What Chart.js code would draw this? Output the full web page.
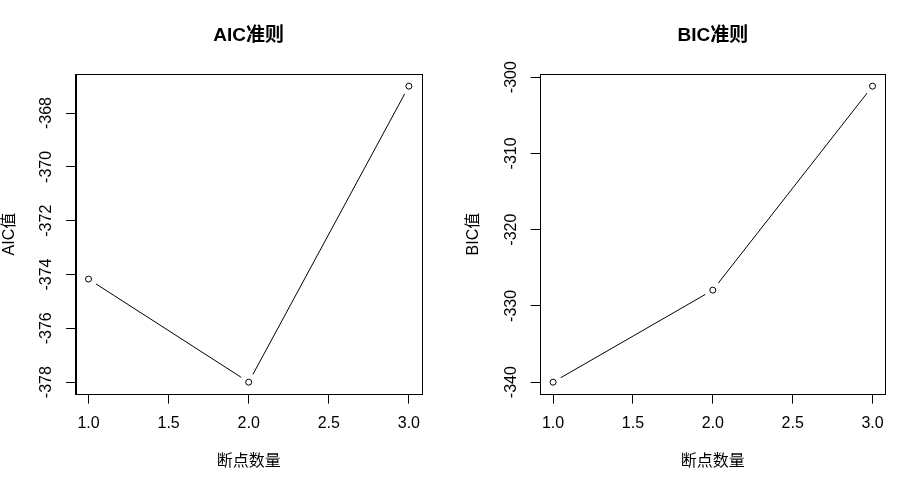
<!DOCTYPE html>
<html>
<head>
<meta charset="utf-8">
<script src="https://cdn.jsdelivr.net/npm/chart.js@4/dist/chart.umd.min.js"></script>
<style>
  html, body { margin: 0; padding: 0; background: #fff; }
  #wrap { position: relative; width: 901px; height: 483px; }
  canvas { position: absolute; top: 0; }
</style>
</head>
<body>
<div id="wrap">
  <canvas id="aicChart" width="450" height="483" style="left:0"></canvas>
  <canvas id="bicChart" width="451" height="483" style="left:450px"></canvas>
</div>
<script>
const breakpoints = [1, 2, 3];
const aicValues = [-374.17, -378.0, -367.0];
const bicValues = [-340.0, -327.93, -301.18];
const xTicks = [1.0, 1.5, 2.0, 2.5, 3.0];
const aicTicks = [-378, -376, -374, -372, -370, -368];
const bicTicks = [-340, -330, -320, -310, -300];

Chart.defaults.font.family = "'Liberation Sans', Arial, 'Noto Sans CJK SC', sans-serif";
Chart.defaults.color = '#000';

// R style axis range: data range padded by 4% on each side
function padRange(vals) {
  const lo = Math.min(...vals), hi = Math.max(...vals);
  const d = (hi - lo) * 0.04;
  return [lo - d, hi + d];
}

// draws the box around the plot region like R's box()
const boxPlugin = {
  id: 'plotBox',
  afterDatasetsDraw(chart) {
    const a = chart.chartArea;
    const ctx = chart.ctx;
    ctx.save();
    ctx.strokeStyle = '#000';
    ctx.lineWidth = 1;
    ctx.strokeRect(Math.round(a.left) + 0.5, Math.round(a.top) + 0.5,
      Math.round(a.right - a.left), Math.round(a.bottom - a.top));
    ctx.restore();
  }
};

function makeChart(id, title, yLabel, values, yTicks, yWidth, yTitlePad, rightPad) {
  const pts = breakpoints.map((x, i) => ({ x: x, y: values[i] }));
  const [xMin, xMax] = padRange(breakpoints);
  const [yMin, yMax] = padRange(values);
  const axisFont = { size: 16 };
  return new Chart(document.getElementById(id), {
    type: 'scatter',
    data: {
      datasets: [
        {
          // line with white "holes" around the points (type = "b")
          data: pts,
          showLine: true,
          borderColor: '#000',
          borderWidth: 1,
          pointRadius: 9,
          pointBackgroundColor: '#fff',
          pointBorderColor: '#fff',
          pointBorderWidth: 0,
          order: 2
        },
        {
          data: pts,
          showLine: false,
          pointRadius: 3,
          pointBackgroundColor: 'rgba(0,0,0,0)',
          pointBorderColor: '#000',
          pointBorderWidth: 1,
          order: 1
        }
      ]
    },
    options: {
      responsive: false,
      animation: false,
      devicePixelRatio: 1,
      layout: { padding: { top: 0, right: rightPad, bottom: 0, left: 0 } },
      plugins: {
        legend: { display: false },
        tooltip: { enabled: false },
        title: {
          display: true,
          text: title,
          fullSize: false,
          color: '#000',
          font: { size: 19, weight: 'bold' },
          padding: { top: 24.6, bottom: 26.9 }
        }
      },
      scales: {
        x: {
          type: 'linear',
          position: 'bottom',
          min: xMin,
          max: xMax,
          afterBuildTicks: s => { s.ticks = xTicks.map(v => ({ value: v })); },
          afterFit: s => { s.height = 89; },
          ticks: {
            callback: v => Number(v).toFixed(1),
            padding: 10,
            font: axisFont,
            color: '#000',
            maxRotation: 0,
            autoSkip: false
          },
          grid: { drawOnChartArea: false, drawTicks: true, tickLength: 9.6, color: '#000' },
          border: { display: true, color: '#000' },
          title: {
            display: true,
            text: '断点数量',
            color: '#000',
            font: axisFont,
            padding: { top: 0, bottom: 11.7 }
          }
        },
        y: {
          type: 'linear',
          position: 'left',
          min: yMin,
          max: yMax,
          afterBuildTicks: s => { s.ticks = yTicks.map(v => ({ value: v })); },
          afterFit: s => { s.width = yWidth; },
          ticks: {
            callback: v => String(v),
            minRotation: 90,
            maxRotation: 90,
            crossAlign: 'center',
            padding: 3,
            font: axisFont,
            color: '#000',
            autoSkip: false
          },
          grid: { drawOnChartArea: false, drawTicks: true, tickLength: 9.6, color: '#000' },
          border: { display: true, color: '#000' },
          title: {
            display: true,
            text: yLabel,
            color: '#000',
            font: axisFont,
            padding: { top: yTitlePad, bottom: 0 }
          }
        }
      }
    },
    plugins: [boxPlugin]
  });
}

makeChart('aicChart', 'AIC准则', 'AIC值', aicValues, aicTicks, 75.7, 0, 28.3);
makeChart('bicChart', 'BIC准则', 'BIC值', bicValues, bicTicks, 90.3, 13.7, 15.7);
</script>
</body>
</html>
